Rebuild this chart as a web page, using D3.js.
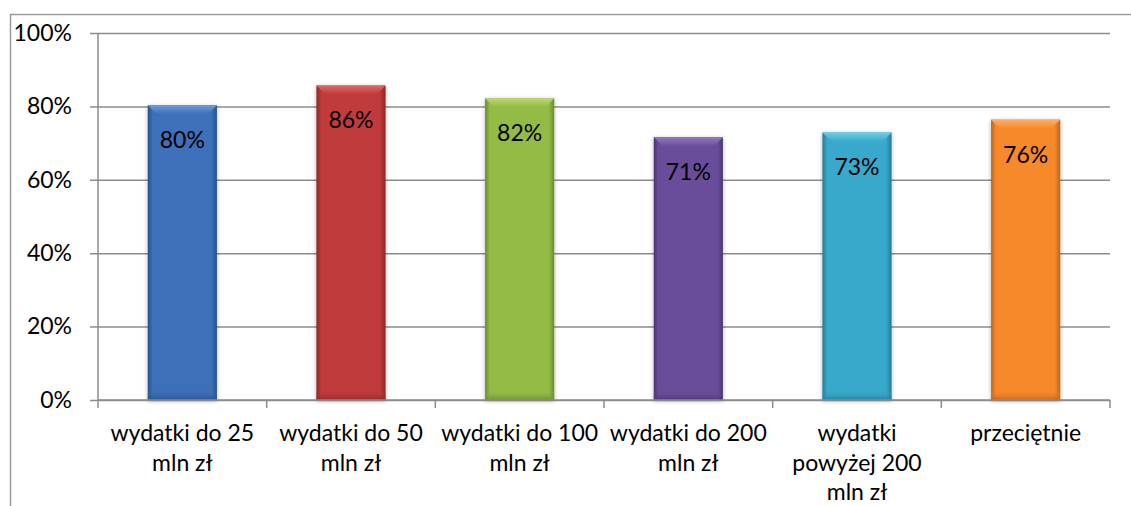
<!DOCTYPE html>
<html><head><meta charset="utf-8">
<script src="https://cdn.jsdelivr.net/npm/d3@7"></script>
<style>
html,body{margin:0;padding:0;background:#fff;}
svg{display:block;font-family:Lato,"Open Sans",sans-serif;}
</style></head>
<body><svg id="c" width="1131" height="506"></svg>
<script>
const categories = ["wydatki do 25\nmln zł","wydatki do 50\nmln zł","wydatki do 100\nmln zł","wydatki do 200\nmln zł","wydatki\npowyżej 200\nmln zł","przeciętnie"];
const values = [0.803, 0.857, 0.822, 0.716, 0.729, 0.764];
const labels = ["80%","86%","82%","71%","73%","76%"];
const yTicks = [0,0.2,0.4,0.6,0.8,1.0];
const yTickLabels = ["0%","20%","40%","60%","80%","100%"];
const colors = [
  {main:"#3c70b9", light:"#6c9bd8", dark:"#28508a"},
  {main:"#c03a3a", light:"#de6a67", dark:"#8c2828"},
  {main:"#94bb45", light:"#bad872", dark:"#6b8a30"},
  {main:"#6a4e9a", light:"#917abf", dark:"#4a3570"},
  {main:"#37a9ca", light:"#72cde5", dark:"#227c98"},
  {main:"#f6892a", light:"#ffb066", dark:"#bf631c"}
];

const svg = d3.select("#c");
const m = {left:98, right:1110, top:33, bottom:400};
const FS = 23;

// outer chart border
svg.append("rect").attr("x",10.5).attr("y",14.5).attr("width",1140).attr("height",520)
  .attr("fill","none").attr("stroke","#9a9a9a").attr("stroke-width",1.5);

const x = d3.scaleBand().domain(d3.range(categories.length)).range([m.left,m.right]).paddingInner(0.59).paddingOuter(0.295);
const y = d3.scaleLinear().domain([0,1]).range([m.bottom,m.top]);

// gridlines + y ticks
const yAxis = d3.axisLeft(y).tickValues(yTicks).tickSize(-(m.right-m.left)).tickSizeOuter(0)
  .tickFormat((d,i)=>yTickLabels[i]).tickPadding(26);
const gy = svg.append("g").attr("transform",`translate(${m.left},0)`).call(yAxis);
gy.select(".domain").remove();
gy.selectAll(".tick line").attr("x1",-8).attr("stroke","#8c8c8c").attr("stroke-width",1.5);
gy.selectAll(".tick text").attr("font-size",FS).attr("fill","#000").attr("font-family","Lato,'Open Sans',sans-serif");
svg.append("line").attr("x1",m.left).attr("x2",m.left).attr("y1",m.top).attr("y2",m.bottom)
  .attr("stroke","#8c8c8c").attr("stroke-width",1.5);

// defs
const defs = svg.append("defs");
colors.forEach((c,i)=>{
  const g = defs.append("linearGradient").attr("id","gh"+i).attr("x1","0").attr("x2","1").attr("y1","0").attr("y2","0");
  g.append("stop").attr("offset","0").attr("stop-color",c.dark);
  g.append("stop").attr("offset","0.07").attr("stop-color",c.main);
  g.append("stop").attr("offset","0.92").attr("stop-color",c.main);
  g.append("stop").attr("offset","1").attr("stop-color",c.dark);
  const gt = defs.append("linearGradient").attr("id","gt"+i).attr("x1","0").attr("x2","0").attr("y1","0").attr("y2","1");
  gt.append("stop").attr("offset","0").attr("stop-color",c.light);
  gt.append("stop").attr("offset","1").attr("stop-color",c.main);
  const gb = defs.append("linearGradient").attr("id","gb"+i).attr("x1","0").attr("x2","0").attr("y1","0").attr("y2","1");
  gb.append("stop").attr("offset","0").attr("stop-color",c.main).attr("stop-opacity",0);
  gb.append("stop").attr("offset","1").attr("stop-color",c.dark).attr("stop-opacity",0.85);
});
const sh = defs.append("filter").attr("id","sh").attr("x","-20%").attr("y","-10%").attr("width","140%").attr("height","120%");
sh.append("feDropShadow").attr("dx",0).attr("dy",1).attr("stdDeviation",2).attr("flood-color","#000").attr("flood-opacity",0.3);

// bars
const bars = svg.append("g").selectAll("g").data(values).join("g");
bars.each(function(v,i){
  const g = d3.select(this);
  const x0 = x(i), w = x.bandwidth(), y0 = y(v), h = y(0)-y(v);
  const bev = 9;
  g.append("rect").attr("x",x0).attr("y",y0).attr("width",w).attr("height",h)
    .attr("fill",`url(#gh${i})`).attr("filter","url(#sh)");
  g.append("path").attr("d",`M${x0},${y0}L${x0+w},${y0}L${x0+w-bev},${y0+bev}L${x0+bev},${y0+bev}Z`)
    .attr("fill",`url(#gt${i})`);
  g.append("rect").attr("x",x0).attr("y",y(0)-10).attr("width",w).attr("height",10).attr("fill",`url(#gb${i})`);
  g.append("text").attr("x",x0+w/2).attr("y",y0+43).attr("text-anchor","middle")
    .attr("font-size",FS).attr("fill","#000").text(labels[i]);
});

// x axis
svg.append("line").attr("x1",m.left).attr("x2",m.right).attr("y1",m.bottom).attr("y2",m.bottom)
  .attr("stroke","#8c8c8c").attr("stroke-width",1.5);
d3.range(categories.length+1).forEach(k=>{
  const xx = m.left + k*(m.right-m.left)/categories.length;
  svg.append("line").attr("x1",xx).attr("x2",xx).attr("y1",m.bottom).attr("y2",m.bottom+8)
    .attr("stroke","#8c8c8c").attr("stroke-width",1.5);
});
categories.forEach((c,i)=>{
  const t = svg.append("text").attr("text-anchor","middle").attr("font-size",FS).attr("fill","#000");
  c.split("\n").forEach((ln,j)=>{
    t.append("tspan").attr("x",x(i)+x.bandwidth()/2).attr("y",441+j*29.5).text(ln);
  });
});
</script></body></html>
